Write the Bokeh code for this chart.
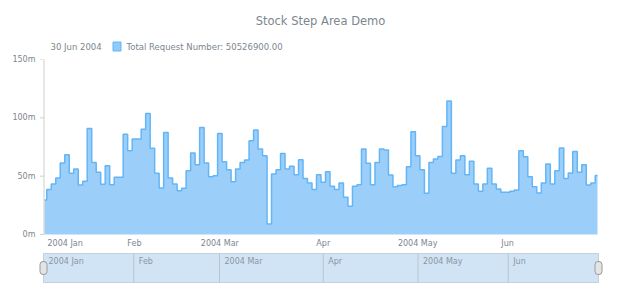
import numpy as np
from bokeh.plotting import figure
from bokeh.layouts import column
from bokeh.models import Range1d, FixedTicker
from bokeh.embed import file_html
from bokeh.resources import INLINE
from bokeh.core.properties import value

# ---------------- data ----------------
title_text = "Stock Step Area Demo"
series_name = "Total Request Number"
last_date_label = "30 Jun 2004"

month_labels = ["2004 Jan", "Feb", "2004 Mar", "Apr", "2004 May", "Jun"]
month_trading_days = [20, 19, 23, 21, 20, 21]

# daily request numbers, millions
jan = [29.6, 38.5, 43.3, 48.4, 61.3, 68.4, 52.4, 56.1, 42.5, 45.6, 90.9, 61.8, 53.3, 43.0,
       59.0, 42.7, 49.0, 49.0, 86.0, 71.8]
feb = [81.8, 81.8, 90.3, 103.7, 74.0, 52.4, 39.9, 87.4, 48.4, 43.3, 37.6, 39.6, 54.7, 69.8,
       59.8, 91.7, 61.3, 49.6, 50.4]
mar = [86.6, 62.4, 55.6, 45.3, 56.1, 61.8, 63.8, 80.3, 89.5, 73.2, 67.5, 9.1, 51.9, 55.6,
       69.5, 56.1, 58.4, 51.3, 64.1, 48.1, 44.2, 38.5, 51.3]
apr = [44.7, 53.8, 41.3, 38.5, 44.2, 31.9, 24.2, 41.3, 42.7, 73.2, 61.0, 42.7, 61.8, 73.2,
       72.4, 51.0, 41.0, 41.9, 42.7, 58.1, 88.0]
may = [67.5, 55.6, 35.3, 61.8, 64.7, 66.9, 92.6, 114.5, 52.4, 63.8, 67.5, 51.3, 62.7, 43.3,
       37.0, 43.3, 56.7, 43.3, 39.0, 36.2]
jun = [36.2, 37.0, 38.2, 71.8, 66.7, 49.6, 41.0, 35.6, 44.2, 60.4, 43.3, 54.7, 74.1, 48.1,
       52.7, 71.2, 53.3, 59.8, 42.5, 44.2, 50.5269]

y_ticks = [0, 50000000, 100000000, 150000000]
y_tick_labels = ["0m", "50m", "100m", "150m"]

# ---------------- derived ----------------
requests_m = jan + feb + mar + apr + may + jun
requests = [v * 1e6 for v in requests_m]
n = len(requests)
x = list(range(n))
month_start = np.cumsum([0] + month_trading_days[:-1]).astype(int).tolist()

FONT = "DejaVu Sans"
TXT = "#7c868e"
W = 620
FL, FR = 38, 603            # common frame left / right (pixels)
BL, BR = FL, W - FR

# ---------------- header (title + legend) ----------------
header = figure(width=W, height=53, x_range=Range1d(FL, FR), y_range=Range1d(53, 0),
                toolbar_location=None, output_backend="svg",
                min_border_left=BL, min_border_right=BR, min_border_top=0, min_border_bottom=0,
                x_axis_location=None, y_axis_location=None, outline_line_color=None)
header.grid.visible = False
header.text(x=[320], y=[20], text=[title_text], text_font=value(FONT),
            text_font_size="11.5px", text_color=TXT, text_align="center",
            text_baseline="middle")
legend_text = f"{series_name}: {requests[-1]:.2f}"
header.text(x=[50], y=[46], text=[last_date_label], text_font=value(FONT),
            text_font_size="8.5px", text_color=TXT, text_align="left",
            text_baseline="middle")
header.rect(x=[116.5], y=[46], width=8, height=9, fill_color="#90caf9",
            line_color="#64b5f6", line_width=1)
header.text(x=[126], y=[46], text=[legend_text], text_font=value(FONT),
            text_font_size="8.5px", text_color=TXT, text_align="left",
            text_baseline="middle")

# ---------------- main chart ----------------
PX0, PX1 = 44, 597          # pixel positions of first / last point
sx = (PX1 - PX0) / (n - 1)
ypp = 150e6 / 175           # value per pixel (150m over 175 px)
def px2x(px):
    return (px - PX0) / sx

p = figure(width=W, height=197,
           x_range=Range1d(px2x(FL), px2x(FR)), y_range=Range1d(-16 * ypp, 150e6),
           toolbar_location=None, output_backend="svg",
           min_border_left=BL, min_border_right=BR, min_border_top=6, min_border_bottom=0,
           x_axis_location=None, outline_line_color=None)
p.grid.visible = False
p.varea_step(x=x, y1=0, y2=requests, step_mode="center", fill_color="#9bcff9")
p.step(x=x, y=requests, mode="center", line_color="#64b5f6", line_width=1.5)

yax = p.yaxis[0]
yax.ticker = FixedTicker(ticks=y_ticks)
yax.major_label_overrides = {t: l for t, l in zip(y_ticks, y_tick_labels)}
yax.axis_line_color = None
yax.major_tick_line_color = None
yax.minor_tick_line_color = None
yax.major_tick_out = 0
yax.major_tick_in = 0
yax.major_label_standoff = 3
yax.major_label_text_font = FONT
yax.major_label_text_font_size = "8px"
yax.major_label_text_color = TXT

# y axis line and tick marks
p.segment(x0=[px2x(43.5)], x1=[px2x(43.5)], y0=[0], y1=[150e6], line_color="#cecece",
          line_width=1)
p.segment(x0=[px2x(39.5)] * len(y_ticks), x1=[px2x(43.5)] * len(y_ticks), y0=y_ticks,
          y1=y_ticks, line_color="#cecece", line_width=1)

# x axis month labels (first one kept inside the plot, others centred)
p.text(x=month_start[:1], y=[-4 * ypp], text=month_labels[:1], x_offset=3,
       text_font=value(FONT), text_font_size="8px", text_color=TXT,
       text_align="left", text_baseline="top")
p.text(x=month_start[1:], y=[-4 * ypp] * (len(month_start) - 1), text=month_labels[1:],
       text_font=value(FONT), text_font_size="8px", text_color=TXT,
       text_align="center", text_baseline="top")

# ---------------- navigator ----------------
NX0, NX1 = 43, 598
sn = (NX1 - NX0) / (n - 1)
nav = figure(width=W, height=50,
             x_range=Range1d((FL - NX0) / sn, (FR - NX0) / sn), y_range=Range1d(50, 0),
             toolbar_location=None, output_backend="svg",
             min_border_left=BL, min_border_right=BR, min_border_top=0, min_border_bottom=0,
             x_axis_location=None, y_axis_location=None, outline_line_color=None)
nav.grid.visible = False
nav.quad(left=[0], right=[n - 1], top=[3], bottom=[32], fill_color="#d1e4f6",
         line_color="#c5d0db", line_width=1)
nav.segment(x0=month_start[1:], x1=month_start[1:], y0=3, y1=32, line_color="#b9c4cf",
            line_width=1)
nav.text(x=month_start, y=[6] * len(month_start), text=month_labels, x_offset=5,
         text_font=value(FONT), text_font_size="8px", text_color="#8c959d",
         text_align="left", text_baseline="top")
hw = 3.5 / sn
nav.quad(left=[0 - hw, n - 1 - hw], right=[0 + hw, n - 1 + hw], top=[11, 11],
         bottom=[24, 24], border_radius=3, fill_color="#e4e4e4", line_color="#9a9a9a",
         line_width=1)

layout = column(header, p, nav, spacing=0)
open("out.html", "w").write(file_html(layout, INLINE))
